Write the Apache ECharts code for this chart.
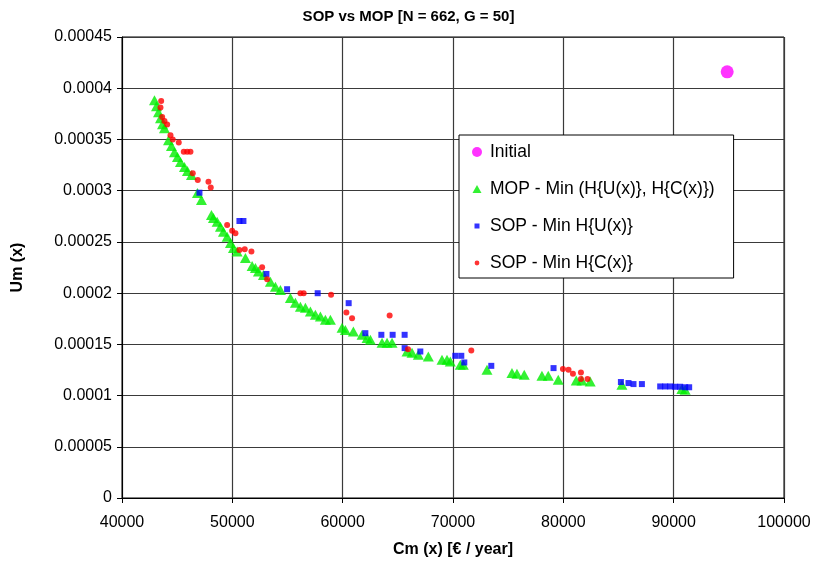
<!DOCTYPE html>
<html>
<head>
<meta charset="utf-8">
<script src="https://cdn.jsdelivr.net/npm/echarts@6/dist/echarts.min.js"></script>
<style>
  html, body { margin: 0; padding: 0; background: #fff; }
  #chart { width: 817px; height: 563px; }
</style>
</head>
<body>
<div id="chart"></div>
<script>
// Starting solution
const initialPoint = [[94850, 0.000416]];

// MOP front: Min (H{U(x)}, H{C(x)})
const mopCost = [42944, 43125, 43306, 43487, 43668, 43849, 44212, 44483, 44755, 45027,
  45299, 45661, 45933, 46295, 46839, 47201, 48107, 48288, 48623, 48922,
  49194, 49529, 49828, 50100, 50435, 51187, 51794, 52093, 52365, 52818,
  53452, 53905, 54357, 55263, 55716, 56169, 56622, 57075, 57528, 57981,
  58434, 58887, 59946, 60245, 60970, 61758, 62211, 62510, 63569, 64022,
  64475, 65833, 66286, 66857, 67763, 69004, 69457, 69756, 70662, 70933,
  73080, 75344, 75797, 76458, 78061, 78632, 79538, 81168, 81685, 82436,
  85308, 90743, 91042];
const mopUm = [0.0003883, 0.0003825, 0.0003766, 0.0003708, 0.0003649, 0.0003610, 0.0003493, 0.0003435, 0.0003376, 0.0003328,
  0.0003279, 0.0003230, 0.0003191, 0.0003152, 0.0002977, 0.0002909, 0.0002762, 0.0002733, 0.0002697, 0.0002648,
  0.0002600, 0.0002551, 0.0002489, 0.0002441, 0.0002405, 0.0002343, 0.0002265, 0.0002246, 0.0002210, 0.0002177,
  0.0002112, 0.0002063, 0.0002031, 0.0001953, 0.0001905, 0.0001868, 0.0001856, 0.0001820, 0.0001788, 0.0001771,
  0.0001739, 0.0001739, 0.0001661, 0.0001641, 0.0001625, 0.0001593, 0.0001563, 0.0001544, 0.0001515, 0.0001515,
  0.0001515, 0.0001430, 0.0001417, 0.0001398, 0.0001381, 0.0001349, 0.0001349, 0.0001332, 0.0001300, 0.0001300,
  0.0001252, 0.0001219, 0.0001213, 0.0001203, 0.0001193, 0.0001193, 0.0001154, 0.0001147, 0.0001147, 0.0001137,
  0.0001105, 0.0001063, 0.0001057];

// SOP: Min H{U(x)}
const sopUCost = [47020, 50643, 51006, 53089, 54964, 57736, 60544, 62056, 63506, 64529,
  65616, 65616, 67038, 70209, 70752, 71024, 73470, 79113, 85218, 85906,
  86359, 87120, 88778, 89231, 89684, 90137, 90590, 91042, 91405];
const sopUUm = [0.0002980, 0.0002704, 0.0002704, 0.0002187, 0.0002038, 0.0001999, 0.0001902, 0.0001609, 0.0001593, 0.0001593,
  0.0001593, 0.0001463, 0.0001430, 0.0001388, 0.0001388, 0.0001323, 0.0001290, 0.0001268, 0.0001132, 0.0001122,
  0.0001112, 0.0001112, 0.0001089, 0.0001089, 0.0001089, 0.0001086, 0.0001086, 0.0001081, 0.0001081];

// SOP: Min H{C(x)}
const sopCCost = [43551, 43487, 43641, 43850, 44094, 44393, 44601, 45145, 45598, 45906,
  46205, 46413, 46866, 47835, 48044, 49529, 49982, 50281, 50643, 51123,
  51730, 52699, 53152, 56169, 56468, 58949, 60335, 60851, 64257, 65924,
  71658, 79964, 80471, 80870, 81595, 81595, 82193];
const sopCUm = [0.0003876, 0.0003812, 0.0003720, 0.0003681, 0.0003646, 0.0003542, 0.0003500, 0.0003471, 0.0003379, 0.0003379,
  0.0003379, 0.0003169, 0.0003103, 0.0003087, 0.0003032, 0.0002665, 0.0002609, 0.0002584, 0.0002421, 0.0002428,
  0.0002405, 0.0002253, 0.0002136, 0.0001999, 0.0001999, 0.0001985, 0.0001810, 0.0001755, 0.0001781, 0.0001453,
  0.0001440, 0.0001258, 0.0001252, 0.0001213, 0.0001225, 0.0001161, 0.0001161];

const seriesNames = ['Initial', 'MOP - Min (H{U(x)}, H{C(x)})', 'SOP - Min H{U(x)}', 'SOP - Min H{C(x)}'];
const titleText = 'SOP vs MOP [N = 662, G = 50]';
const xTitle = 'Cm (x) [€ / year]';
const yTitle = 'Um (x)';

const pairs = (xs, ys) => xs.map((x, i) => [x, ys[i]]);

const FONT = 'Liberation Sans, Arial, sans-serif';

// legend icons padded inside a 10x10 box so the small markers stay small
const squareIcon = 'path://M0 0M10 10M2.5 2.5h5v5h-5z';
const dotIcon = 'path://M0 0M10 10M5 2.6a2.4 2.4 0 1 0 0.001 0z';
const triIcon = 'path://M0 0M10 10M5 1L9.5 9H0.5z';

const chart = echarts.init(document.getElementById('chart'), null, { renderer: 'canvas' });

chart.setOption({
  backgroundColor: '#fff',
  animation: false,
  title: {
    text: titleText,
    left: 'center',
    top: 4,
    textStyle: { fontFamily: FONT, fontSize: 15, fontWeight: 'bold', color: '#000' }
  },
  grid: { left: 122, right: 33, top: 37, bottom: 65, containLabel: false,
    show: true, borderColor: '#000', borderWidth: 1 },
  xAxis: {
    type: 'value', min: 40000, max: 100000, interval: 10000,
    name: xTitle, nameLocation: 'middle', nameGap: 44,
    nameTextStyle: { fontFamily: FONT, fontSize: 16, fontWeight: 'bold', color: '#000' },
    axisLine: { show: true, lineStyle: { color: '#000', width: 1 } },
    axisTick: { show: true, length: 5, lineStyle: { color: '#000' } },
    axisLabel: { fontFamily: FONT, fontSize: 16, color: '#000', margin: 17,
      formatter: v => String(v) },
    splitLine: { show: true, lineStyle: { color: '#3a3a3a', width: 1.2 } }
  },
  yAxis: {
    type: 'value', min: 0, max: 0.00045, interval: 0.00005,
    name: yTitle, nameLocation: 'middle', nameGap: 96, nameRotate: 90,
    nameTextStyle: { fontFamily: FONT, fontSize: 16, fontWeight: 'bold', color: '#000' },
    axisLine: { show: true, lineStyle: { color: '#000', width: 1 } },
    axisTick: { show: true, length: 5, lineStyle: { color: '#000' } },
    axisLabel: {
      fontFamily: FONT, fontSize: 16, color: '#000', margin: 10,
      formatter: v => v === 0 ? '0' : v.toFixed(5).replace(/0+$/, '')
    },
    splitLine: { show: true, lineStyle: { color: '#3a3a3a', width: 1.2 } }
  },
  legend: {
    orient: 'vertical',
    left: 459, top: 135,
    padding: [8, 19, 6, 13],
    itemGap: 19,
    itemWidth: 10, itemHeight: 10,
    backgroundColor: '#fff',
    borderColor: '#000', borderWidth: 1,
    textStyle: { fontFamily: FONT, fontSize: 17.5, color: '#000', padding: [0, 0, 0, 3] },
    data: [
      { name: seriesNames[0], icon: 'circle' },
      { name: seriesNames[1], icon: triIcon },
      { name: seriesNames[2], icon: squareIcon },
      { name: seriesNames[3], icon: dotIcon }
    ]
  },
  series: [
    {
      name: seriesNames[0], type: 'scatter', symbol: 'circle', symbolSize: 13,
      itemStyle: { color: '#ff00ff' }, data: initialPoint
    },
    {
      name: seriesNames[1], type: 'scatter', symbol: 'triangle', symbolSize: [11, 10],
      itemStyle: { color: '#00ee00' }, data: pairs(mopCost, mopUm)
    },
    {
      name: seriesNames[2], type: 'scatter', symbol: 'rect', symbolSize: 6,
      itemStyle: { color: '#0000ff' }, data: pairs(sopUCost, sopUUm)
    },
    {
      name: seriesNames[3], type: 'scatter', symbol: 'circle', symbolSize: 6,
      itemStyle: { color: '#ff0000' }, data: pairs(sopCCost, sopCUm)
    }
  ]
});
</script>
</body>
</html>
